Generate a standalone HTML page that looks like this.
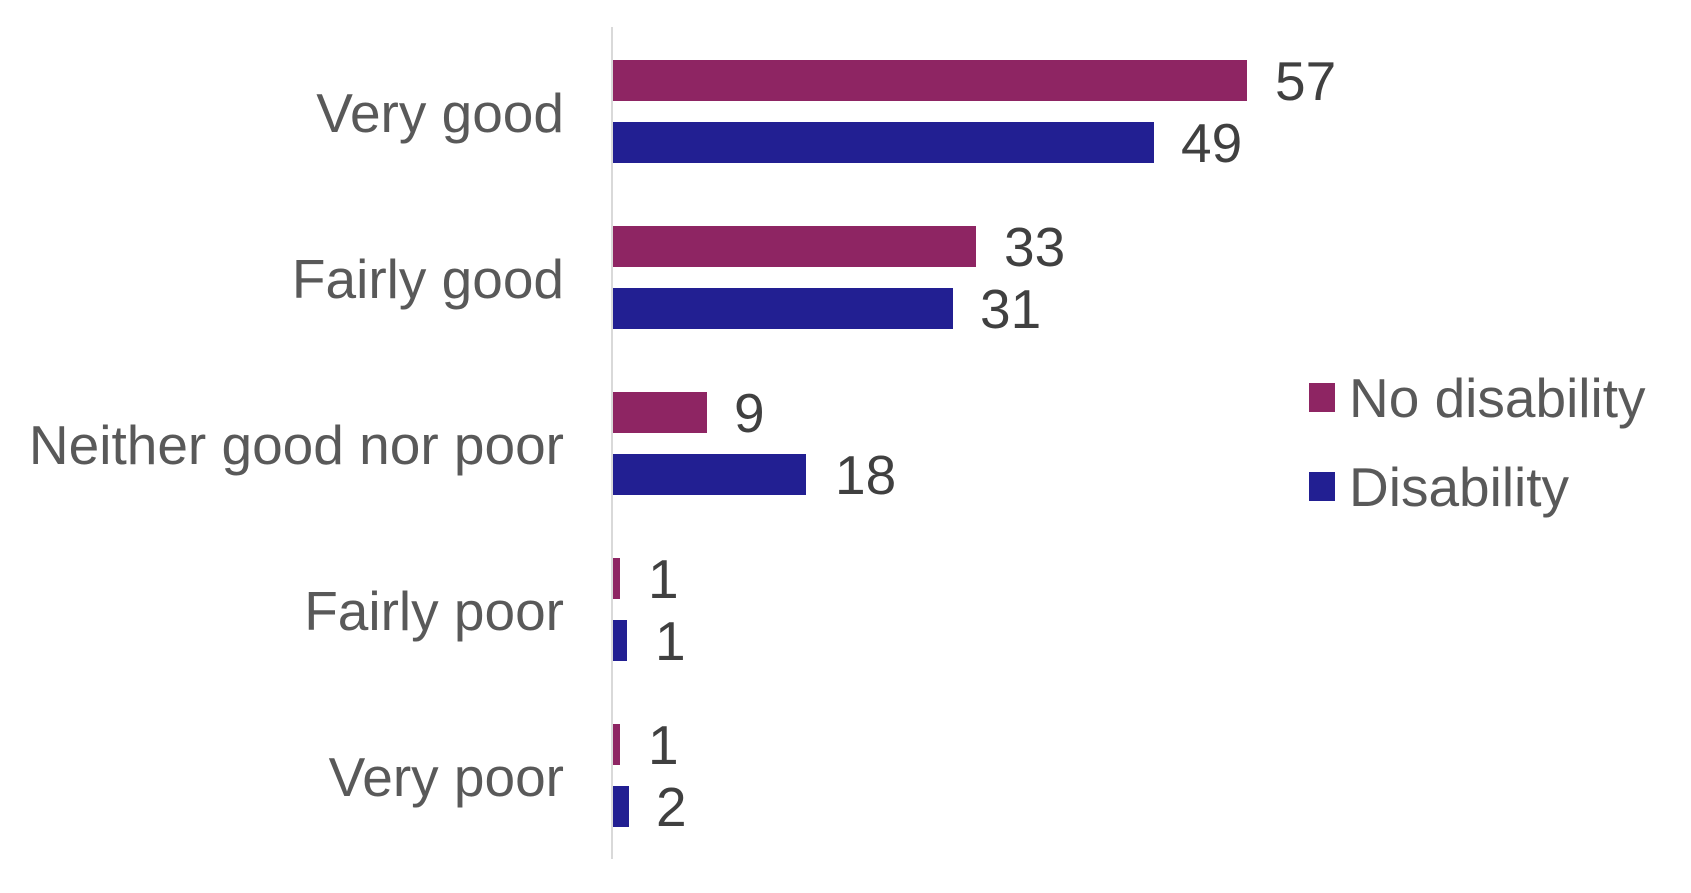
<!DOCTYPE html>
<html><head><style>
body{margin:0;background:#fff;width:1691px;height:888px;overflow:hidden}
svg text{font-family:"Liberation Sans",sans-serif;font-size:55px}
</style></head><body>
<svg width="1691" height="888" xmlns="http://www.w3.org/2000/svg">
<line x1="612" y1="27" x2="612" y2="859" stroke="#d9d9d9" stroke-width="2"/>
<g fill="#595959" text-anchor="end">
<text x="564" y="132">Very good</text>
<text x="564" y="298">Fairly good</text>
<text x="564" y="464">Neither good nor poor</text>
<text x="564" y="630">Fairly poor</text>
<text x="564" y="796">Very poor</text>
</g>
<g fill="#8e2563">
<rect x="613" y="60" width="634" height="41"/>
<rect x="613" y="226" width="363" height="41"/>
<rect x="613" y="392" width="94" height="41"/>
<rect x="613" y="558" width="7" height="41"/>
<rect x="613" y="724" width="7" height="41"/>
</g>
<g fill="#221f92">
<rect x="613" y="122" width="541" height="41"/>
<rect x="613" y="288" width="340" height="41"/>
<rect x="613" y="454" width="193" height="41"/>
<rect x="613" y="620" width="14" height="41"/>
<rect x="613" y="786" width="16" height="41"/>
</g>
<g fill="#404040">
<text x="1275" y="100">57</text>
<text x="1181" y="162">49</text>
<text x="1004" y="266">33</text>
<text x="980" y="328">31</text>
<text x="734" y="432">9</text>
<text x="835" y="494">18</text>
<text x="648" y="598">1</text>
<text x="655" y="660">1</text>
<text x="648" y="764">1</text>
<text x="656" y="826">2</text>
</g>
<rect x="1309" y="383" width="26" height="29" fill="#8e2563"/>
<rect x="1309" y="472" width="26" height="29" fill="#221f92"/>
<g fill="#595959">
<text x="1349" y="417">No disability</text>
<text x="1349" y="506">Disability</text>
</g>
</svg>
</body></html>
